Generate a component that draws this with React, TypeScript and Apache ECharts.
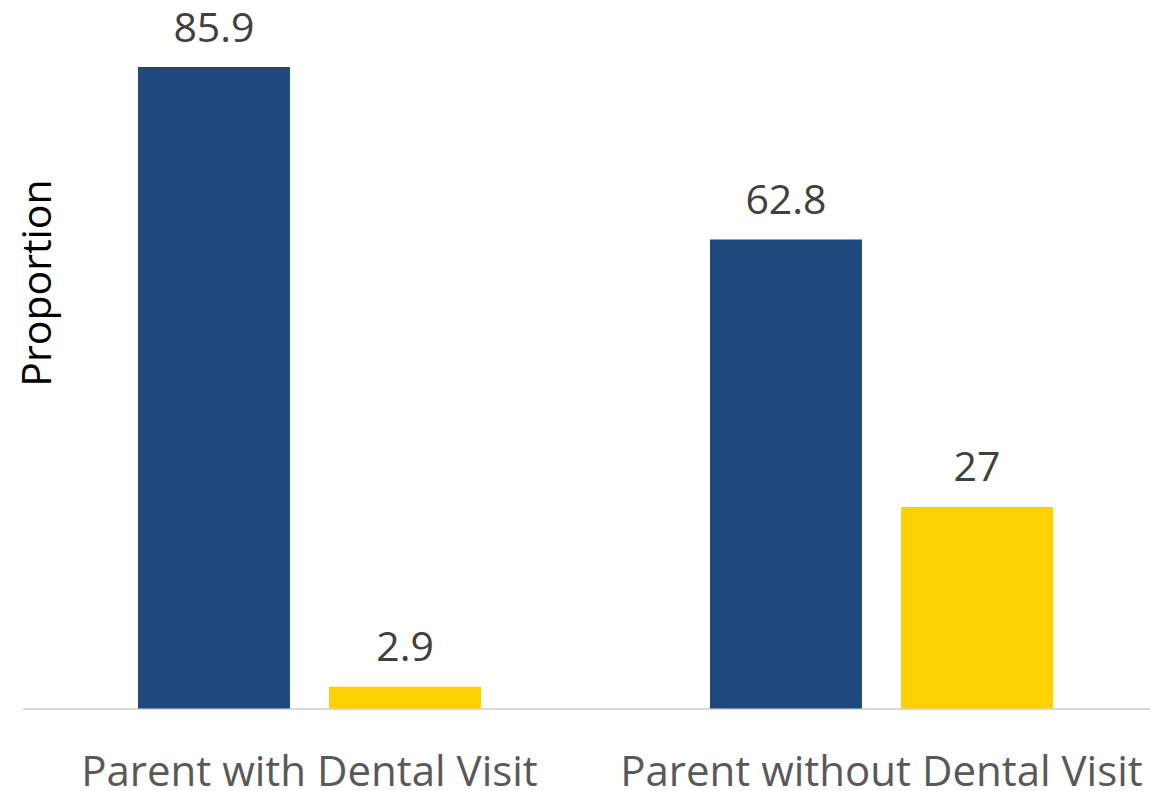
import React, { useEffect, useRef } from "react";
import * as echarts from "echarts";

const categories = ["Parent with Dental Visit", "Parent without Dental Visit"];
const seriesA = [85.9, 62.8];
const seriesB = [2.9, 27];
const yAxisName = "Proportion";

export default function App() {
  const ref = useRef<HTMLDivElement>(null);
  useEffect(() => {
    if (!ref.current) return;
    const chart = echarts.init(ref.current, null, { renderer: "svg" });
    const font = "'Open Sans', 'Liberation Sans', sans-serif";
    const dataLabel = {
      show: true,
      position: "top",
      distance: 25,
      color: "#404040",
      fontSize: 41,
      lineHeight: 33,
      fontFamily: font,
    };
    chart.setOption({
      animation: false,
      backgroundColor: "#ffffff",
      grid: {
        left: 23.5,
        top: 36.5,
        width: 1144,
        bottom: 82.5,
        containLabel: false,
        outerBoundsMode: "none",
      },
      xAxis: {
        type: "category",
        data: categories,
        axisLine: { show: true, lineStyle: { color: "#D9D9D9", width: 2 } },
        axisTick: { show: false },
        axisLabel: {
          color: "#595959",
          fontSize: 42,
          lineHeight: 34,
          fontFamily: font,
          margin: 44,
          interval: 0,
          hideOverlap: false,
        },
      },
      yAxis: {
        type: "value",
        min: 0,
        max: 90,
        show: false,
        splitLine: { show: false },
      },
      graphic: [
        {
          type: "text",
          x: 35,
          y: 283,
          rotation: Math.PI / 2,
          style: {
            text: yAxisName,
            fontSize: 41,
            fontFamily: font,
            fill: "#000000",
            align: "center",
            verticalAlign: "middle",
          },
        },
      ],
      series: [
        {
          type: "bar",
          data: seriesA,
          barWidth: 152,
          barGap: "25.7%",
          itemStyle: { color: "#1F497D" },
          label: dataLabel,
        },
        {
          type: "bar",
          data: seriesB,
          barWidth: 152,
          barGap: "25.7%",
          itemStyle: { color: "#FFD101" },
          label: dataLabel,
        },
      ],
    });
    return () => chart.dispose();
  }, []);
  return <div ref={ref} style={{ position: "absolute", left: 0, top: 0, width: 1150, height: 791 }} />;
}
